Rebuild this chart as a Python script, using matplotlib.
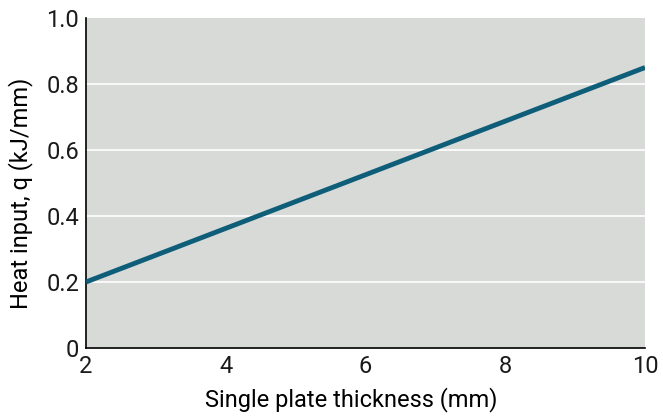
import matplotlib
matplotlib.use('Agg')
import matplotlib.pyplot as plt

# Heat input vs plate thickness
thickness = [2, 10]
heat_input = [0.2, 0.85]
y_ticks = [0, 0.2, 0.4, 0.6, 0.8, 1.0]
y_labels = ['0', '0.2', '0.4', '0.6', '0.8', '1.0']
x_ticks = [2, 4, 6, 8, 10]

plt.rcParams['font.family'] = ['Roboto', 'DejaVu Sans']

fig = plt.figure(figsize=(6.63, 4.19), dpi=100)
ax = fig.add_axes([0.1297, 0.1695, 0.8432, 0.7875])
ax.set_facecolor('#d8dad7')

for y in y_ticks[1:-1]:
    ax.axhline(y, color='white', linewidth=1.2, zorder=1)

ax.plot(thickness, heat_input, color='#0e5e7a', linewidth=3.5, solid_capstyle='butt', zorder=3)

ax.set_xlim(2, 10)
ax.set_ylim(0, 1.0)
ax.set_xticks(x_ticks)
ax.set_yticks(y_ticks)
ax.set_yticklabels(y_labels)
ax.tick_params(length=0, labelsize=17, pad=5, colors='#1a1a1a')

for s in ['top', 'right']:
    ax.spines[s].set_visible(False)
for s in ['left', 'bottom']:
    ax.spines[s].set_color('black')
    ax.spines[s].set_linewidth(1.2)

ax.set_xlabel('Single plate thickness (mm)', fontsize=17)
ax.set_ylabel('Heat input, q (kJ/mm)', fontsize=17)
ax.xaxis.set_label_coords(0.474, -0.118)
ax.yaxis.set_label_coords(-0.094, 0.47)

plt.savefig('out.png', dpi=100)
